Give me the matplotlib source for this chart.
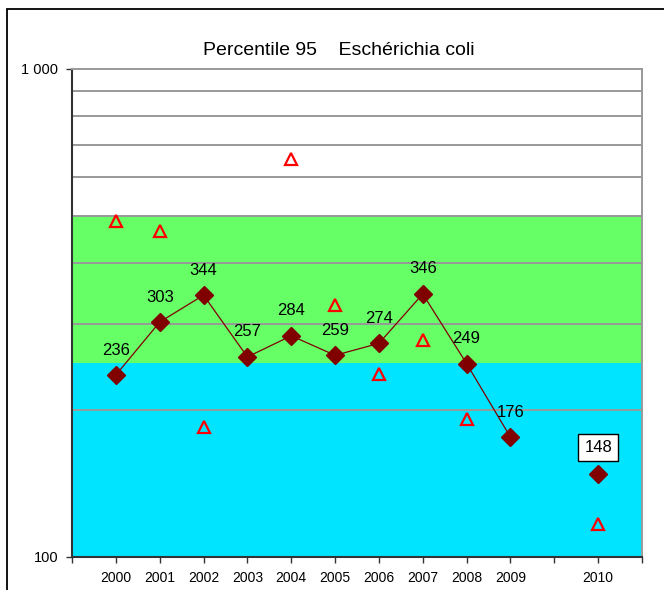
import matplotlib
matplotlib.use("Agg")
import matplotlib.pyplot as plt
from matplotlib.patches import Rectangle

plt.rcParams['font.family'] = ['Liberation Sans', 'DejaVu Sans']

# valeurs
annees = ["2000", "2001", "2002", "2003", "2004", "2005", "2006", "2007", "2008", "2009", "2010"]
pos = [0, 1, 2, 3, 4, 5, 6, 7, 8, 9, 11]  # une case vide entre 2009 et 2010
p95 = [236, 303, 344, 257, 284, 259, 274, 346, 249, 176, 148]
# triangles (pas de valeur en 2003 et 2009)
tri_annees = ["2000", "2001", "2002", "2004", "2005", "2006", "2007", "2008", "2010"]
tri_val = [488, 466, 185, 654, 328, 237, 278, 192, 117]

# zones de qualite
zone_bleue = (100, 250)
zone_verte = (250, 500)
grilles = [200, 300, 400, 500, 600, 700, 800, 900]

fig = plt.figure(figsize=(6.64, 5.90), dpi=100)
ax = fig.add_axes([72/664, 1-557/590, (642-72)/664, (557-69)/590])

# cadre exterieur du graphique
fig.patches.append(Rectangle((7/664, -0.05), 1.0, 1.05 - 9/590, transform=fig.transFigure,
                             fill=False, edgecolor='black', linewidth=1.3))

ax.set_yscale('log')
ax.set_ylim(100, 1000)
ax.set_xlim(-1, 12)

ax.axhspan(zone_bleue[0], zone_bleue[1], color='#00E4FF', zorder=0, linewidth=0)
ax.axhspan(zone_verte[0], zone_verte[1], color='#66FF66', zorder=0, linewidth=0)
for g in grilles:
    ax.axhline(g, color='#999999', linewidth=1.4, zorder=1)

# serie reliee 2000-2009, 2010 isole
ax.plot(pos[:10], p95[:10], color='#800000', linewidth=0.9, zorder=3)
ax.plot(pos, p95, linestyle='none', marker='D', markersize=9,
        color='#800000', zorder=4)

tri_pos = [pos[annees.index(a)] for a in tri_annees]
ax.plot(tri_pos, tri_val, linestyle='none', marker='^', markersize=8,
        markerfacecolor='none', markeredgecolor='red', markeredgewidth=1.6, zorder=4)

for i in range(len(p95)):
    if annees[i] == "2010":
        ax.annotate(str(p95[i]), (pos[i], p95[i]), xytext=(0, 19), textcoords='offset points',
                    ha='center', va='center', fontsize=12,
                    bbox=dict(boxstyle='square,pad=0.35', facecolor='white', edgecolor='black', linewidth=1))
    else:
        ax.annotate(str(p95[i]), (pos[i], p95[i]), xytext=(0, 18), textcoords='offset points',
                    ha='center', va='center', fontsize=12, zorder=5)

# axes
ax.set_xticks(range(-1, 13))
labels = []
for k in range(-1, 13):
    labels.append(annees[pos.index(k)] if k in pos else "")
ax.set_xticklabels(labels, fontsize=10)
ax.set_yticks([100, 1000])
ax.set_yticklabels(["100", "1 000"], fontsize=10.5)
ax.yaxis.set_minor_locator(matplotlib.ticker.NullLocator())
ax.tick_params(axis='both', direction='out', length=4, width=1, color='#333333', pad=6)

ax.spines['left'].set_color('#333333')
ax.spines['bottom'].set_color('#333333')
ax.spines['left'].set_linewidth(1.5)
ax.spines['bottom'].set_linewidth(1.5)
ax.spines['top'].set_color('#999999')
ax.spines['right'].set_color('#999999')
ax.spines['top'].set_linewidth(1.4)
ax.spines['right'].set_linewidth(1.4)

ax.set_title("Percentile 95    Eschérichia coli", fontsize=14, pad=10, x=0.468)

fig.savefig("out.png", dpi=100)
